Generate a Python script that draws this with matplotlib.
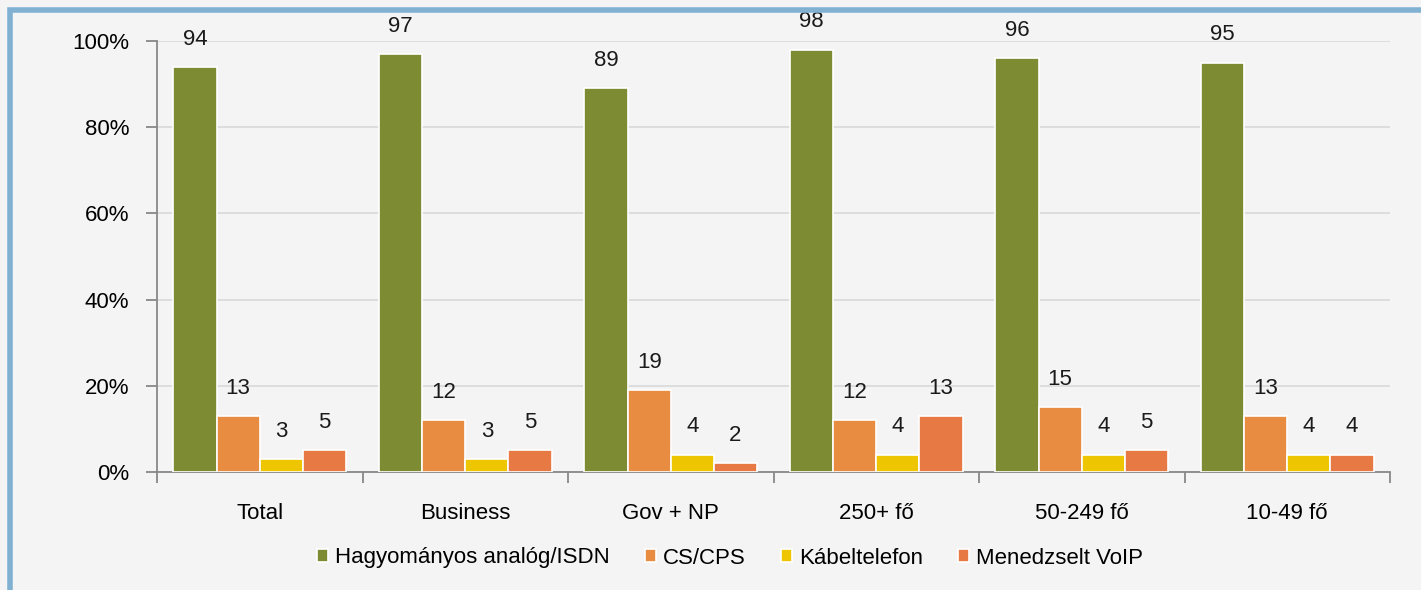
import matplotlib.pyplot as plt
import matplotlib.patches as mpatches
import numpy as np

plt.rcParams['font.family'] = ['Liberation Sans Narrow', 'Liberation Sans', 'DejaVu Sans']

categories = ['Total', 'Business', 'Gov + NP', '250+ fő', '50-249 fő', '10-49 fő']
series_names = ['Hagyományos analóg/ISDN', 'CS/CPS', 'Kábeltelefon', 'Menedzselt VoIP']
analog = [94, 97, 89, 98, 96, 95]
cscps = [13, 12, 19, 12, 15, 13]
kabel = [3, 3, 4, 4, 4, 4]
voip = [5, 5, 2, 13, 5, 4]
colors = ['#7d8b33', '#e88c42', '#edc500', '#e67944']

bg = '#f4f4f4'
fig = plt.figure(figsize=(14.21, 5.90), dpi=100, facecolor=bg)
ax = fig.add_axes([157 / 1421, 118 / 590, (1390 - 157) / 1421, (472 - 41) / 590])
ax.set_facecolor(bg)

# frame border (left/top visible)
fig.patches.append(mpatches.Rectangle((10 / 1421, -0.05), 1.2, (590 - 10) / 590 + 0.05,
                                      transform=fig.transFigure, fill=False,
                                      edgecolor='#80b1d3', linewidth=4, zorder=0))

x = np.arange(len(categories))
w = 0.21
offsets = [-1.5 * w, -0.5 * w, 0.5 * w, 1.5 * w]
for vals, off, c, name in zip([analog, cscps, kabel, voip], offsets, colors, series_names):
    bars = ax.bar(x + off, vals, w, color=c, edgecolor='white', linewidth=1.2,
                  label=name, zorder=3)
    for b, v in zip(bars, vals):
        ax.annotate(str(v), (b.get_x() + b.get_width() / 2, v), xytext=(0, 20),
                    textcoords='offset points', ha='center', va='center',
                    fontsize=16, color='#1a1a1a')

ax.set_xlim(-0.5, len(categories) - 0.5)
ax.set_ylim(0, 100)
ax.set_yticks(range(0, 101, 20))
ax.set_yticklabels([f'{t}%' for t in range(0, 101, 20)], fontsize=16)
ax.yaxis.grid(True, color='#d9d9d9', linewidth=1.2, zorder=0)
ax.set_axisbelow(True)

ax.set_xticks(np.arange(-0.5, len(categories), 1))
ax.set_xticklabels([])
ax.set_xticks(x, minor=True)
ax.set_xticklabels(categories, minor=True, fontsize=16)
ax.tick_params(axis='x', which='major', length=8, color='#888888', width=1.3)
ax.tick_params(axis='x', which='minor', length=0, pad=22)
ax.tick_params(axis='y', length=8, color='#888888', width=1.3, pad=12)

for s in ['top', 'right']:
    ax.spines[s].set_visible(False)
for s in ['left', 'bottom']:
    ax.spines[s].set_color('#888888')
    ax.spines[s].set_linewidth(1.3)

fig.legend(loc='center', bbox_to_anchor=(730 / 1421, 1 - 558 / 590), ncol=4,
           frameon=False, fontsize=16, handlelength=0.5, handleheight=0.5,
           handletextpad=0.3, columnspacing=1.6)

fig.savefig('out.png', dpi=100, facecolor=bg)
